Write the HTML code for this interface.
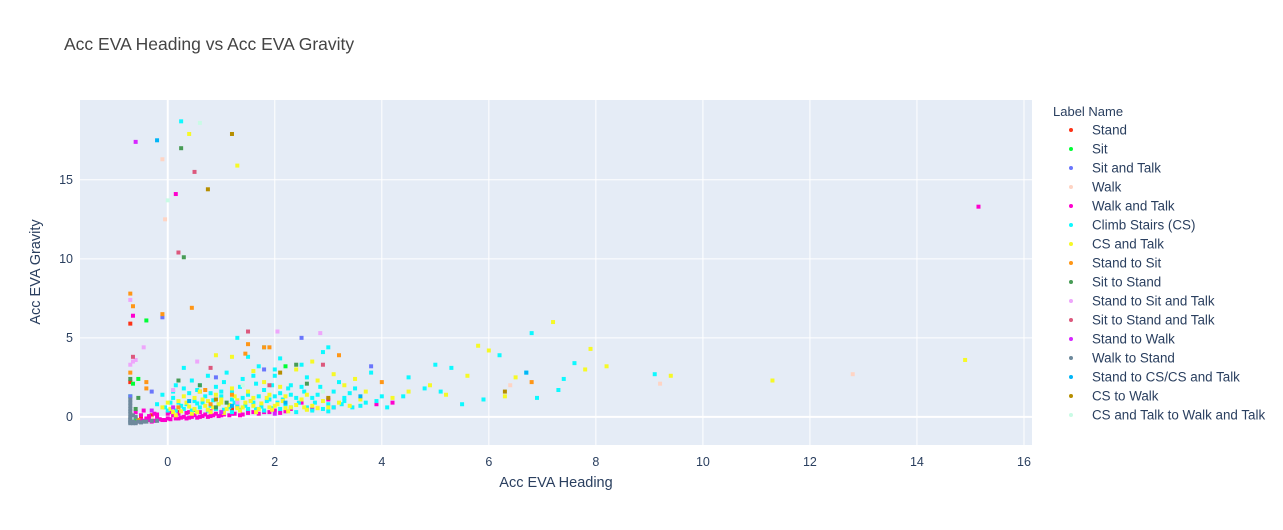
<!DOCTYPE html>
<html><head><meta charset="utf-8"><style>
body{margin:0;background:#fff;font-family:"Liberation Sans",Arial,sans-serif}
svg text{font-family:"Liberation Sans",Arial,sans-serif;fill:#2a3f5f}
</style></head><body>
<svg id="chart" width="1283" height="525" viewBox="0 0 1283 525" xmlns="http://www.w3.org/2000/svg">
<rect width="1283" height="525" fill="#fff"/>
<rect x="80" y="100" width="952" height="345" fill="#E5ECF6"/>
<g id="grid"></g><g id="ticks"></g><g id="marks"></g>
<text x="64" y="50" font-size="17.5" style="fill:#444">Acc EVA Heading vs Acc EVA Gravity</text>
<text x="556" y="487" font-size="14.5" text-anchor="middle">Acc EVA Heading</text>
<text transform="translate(40,272) rotate(-90)" font-size="14.5" text-anchor="middle">Acc EVA Gravity</text>
<g id="legend"><text x="1053" y="116" font-size="13">Label Name</text></g>
</svg>
<script>
const xTicks=[0,2,4,6,8,10,12,14,16];
const yTicks=[0,5,10,15];
const seriesNames=["Stand","Sit","Sit and Talk","Walk","Walk and Talk","Climb Stairs (CS)","CS and Talk","Stand to Sit","Sit to Stand","Stand to Sit and Talk","Sit to Stand and Talk","Stand to Walk","Walk to Stand","Stand to CS/CS and Talk","CS to Walk","CS and Talk to Walk and Talk"];
const seriesColors=["#FD3216","#00FE35","#6A76FC","#FED4C4","#FE00CE","#0DF9FF","#F6F926","#FF9616","#479B55","#EEA6FB","#DC587D","#D626FF","#6E899C","#00B5F7","#B68E00","#C9FBE5"];
const standPts=[[-0.7,5.9],[-0.7,2.2],[-0.6,-0.2],[-0.3,0.1],[0.2,0.3],[0.6,1.6],[1.2,0.5],[-0.5,0.0]];
const sitPts=[[-0.4,6.1],[-0.65,2.1],[-0.7,1.3],[-0.55,2.4],[2.2,3.2],[0.5,0.4],[-0.6,-0.1]];
const sitTalkPts=[[-0.1,6.3],[2.5,5.0],[-0.7,1.3],[0.9,2.5],[1.8,3.0],[3.8,3.2],[-0.3,1.6],[1.5,0.4]];
const walkPts=[[-0.05,12.5],[-0.1,16.3],[12.8,2.7],[9.2,2.1],[6.4,2.0],[0.5,0.2],[1.0,0.4],[2.8,0.6],[-0.3,-0.1]];
const walkTalkPts=[[0.15,14.1],[-0.65,6.4],[15.15,13.3],[-0.5,-0.2],[-0.4,-0.1],[-0.3,-0.3],[-0.2,0.0],[-0.1,-0.2],[0.0,-0.1],[0.1,0.1],[0.2,-0.1],[0.3,0.0],[0.4,-0.05],[0.5,0.1],[0.6,0.0],[0.7,0.15],[0.8,0.05],[0.9,0.2],[1.0,0.1],[1.2,0.2],[1.4,0.15],[1.6,0.3],[1.8,0.3],[2.0,0.4],[2.3,0.5],[2.7,0.5],[3.1,0.6],[3.9,0.8],[4.2,0.9],[-0.6,0.3],[-0.45,0.4],[-0.25,0.2],[0.05,0.3],[0.35,0.25],[1.3,0.6],[2.5,0.9],[3.0,1.1],
[-0.55,-0.3],[-0.45,-0.25],[-0.35,-0.2],[-0.25,-0.25],[-0.15,-0.15],[-0.05,-0.2],[0.05,-0.15],[0.15,-0.1],[0.25,-0.05],[0.35,-0.1],[0.45,0.0],[0.55,-0.05],[0.65,0.05],[0.75,0.0],[0.85,0.1],[0.95,0.05],[1.05,0.15],[1.15,0.1],[1.25,0.2],[1.35,0.1],[1.5,0.25],[1.7,0.2],[1.9,0.3],[2.1,0.25],[2.2,0.35],[-0.5,0.1],[-0.35,0.05],[-0.2,0.15],[0.0,0.2],[0.2,0.2],[0.4,0.3],[0.6,0.3],[0.8,0.35]];
const csPts=[[0.25,18.7],[5.0,3.3],[5.3,3.1],[6.2,3.9],[6.8,5.3],[7.4,2.4],[9.1,2.7],[6.7,2.8],[7.3,1.7],[5.9,1.1],[4.5,2.5],[4.8,1.8],[5.5,0.8],[4.4,1.3],[3.8,2.8],[1.3,5.0],[1.5,3.8],[1.8,4.4],[2.1,3.7],[2.5,3.3],[3.0,4.4],[2.9,4.1],[0.3,3.1],[0.6,2.0],[0.9,1.9],[1.1,2.8],[1.4,2.4],[1.7,3.2],[2.0,2.6],[2.3,2.0],[2.6,2.5],[3.2,2.2],[3.5,1.8],[-0.1,1.4],[0.1,1.2],[0.2,0.9],[0.4,1.5],[0.5,1.0],[0.7,1.3],[0.8,0.7],[1.0,1.6],[1.2,1.1],[1.3,0.8],[1.5,1.4],[1.6,0.9],[1.8,1.7],[1.9,1.1],[2.1,1.5],[2.2,0.8],[2.4,1.2],[2.6,0.6],[2.8,1.4],[3.0,0.8],[3.3,1.2],[3.6,0.7],[3.9,1.0],[4.1,0.6],[0.0,0.4],[0.3,0.5],[0.6,0.6],[0.9,0.5],[1.2,0.3],[1.5,0.5],[1.8,0.4],[2.1,0.5],[2.4,0.3],[2.7,0.4],[3.0,0.35],[0.15,2.0],[0.45,2.3],[0.75,2.6],[1.05,2.2],[1.35,1.9],[1.65,2.1],[1.95,2.0],[2.25,1.8],[2.55,1.6],[2.85,1.9],[0.25,0.7],[0.55,0.85],[0.85,1.05],[1.15,0.6],[1.45,0.7],[1.75,0.65],[2.05,0.9],[5.1,1.6],[6.9,1.2],[7.6,3.4],[3.4,1.5],[4.0,1.3],[2.0,3.0],[1.6,2.6],
[-0.2,0.8],[-0.05,0.6],[0.05,0.9],[0.15,0.4],[0.35,0.8],[0.45,0.4],[0.65,0.9],[0.75,0.4],[0.95,0.8],[1.05,0.45],[1.25,0.9],[1.35,0.45],[1.55,1.0],[1.65,0.5],[1.85,1.0],[1.95,0.55],[2.15,1.1],[2.3,0.6],[2.45,0.9],[2.6,0.5],[2.75,0.9],[2.9,0.5],[3.1,0.6],[3.25,0.8],[3.45,0.6],[3.7,0.9],[0.1,1.6],[0.3,1.8],[0.55,1.7],[0.8,1.5],[1.0,1.3],[1.2,1.6],[1.4,1.2],[1.7,1.3],[2.0,1.3],[2.3,1.4],[2.5,1.9],[2.7,1.2],[3.1,1.6],[3.3,1.0]];
const csTalkPts=[[0.4,17.9],[1.3,15.9],[5.8,4.5],[7.2,6.0],[7.9,4.3],[8.2,3.2],[7.8,3.0],[9.4,2.6],[11.3,2.3],[14.9,3.6],[5.6,2.6],[6.5,2.5],[6.0,4.2],[4.9,2.0],[3.7,1.6],[4.2,1.2],[0.9,3.9],[1.2,3.8],[1.6,2.9],[2.4,3.0],[2.7,3.5],[3.1,2.7],[3.3,2.0],[0.1,0.3],[0.2,0.6],[0.35,0.9],[0.5,0.5],[0.65,1.1],[0.8,0.3],[0.95,0.8],[1.1,0.5],[1.25,1.3],[1.4,0.6],[1.55,1.0],[1.7,0.5],[1.85,1.2],[2.0,0.7],[2.15,1.0],[2.3,0.6],[2.5,1.1],[2.7,0.7],[2.9,1.0],[3.2,0.9],[0.0,0.9],[0.3,1.3],[0.6,1.6],[0.9,1.4],[1.2,1.8],[1.5,1.6],[1.8,2.2],[2.1,1.9],[0.45,0.2],[0.75,0.45],[1.05,0.25],[1.35,0.4],[1.65,0.3],[1.95,0.45],[2.25,0.35],[2.6,0.45],[0.15,0.1],[-0.1,0.6],[3.5,2.4],[4.5,1.6],[5.2,1.4],[6.3,1.3],[2.8,2.3],
[0.05,0.5],[0.25,0.35],[0.4,0.65],[0.55,0.3],[0.7,0.7],[0.85,0.6],[1.0,0.9],[1.15,0.75],[1.3,0.55],[1.45,0.9],[1.6,0.7],[1.75,0.85],[1.9,0.6],[2.05,0.8],[2.2,0.55],[2.4,0.75],[2.55,0.6],[2.8,0.55],[3.0,0.6],[3.4,0.7],[0.2,1.0],[0.5,1.2],[0.75,1.0],[1.0,1.1],[1.3,1.05],[1.6,1.2],[1.9,1.4],[2.2,1.3],[2.6,1.4],[3.6,1.1]];
const standSitPts=[[-0.7,7.8],[0.45,6.9],[-0.1,6.5],[-0.65,7.0],[1.5,4.6],[1.8,4.4],[1.9,4.4],[1.45,4.0],[3.2,3.9],[4.0,2.2],[6.8,2.2],[-0.4,2.2],[-0.4,1.8],[-0.7,2.8],[0.7,1.7],[1.2,1.4],[0.2,0.6],[0.8,0.8],[-0.55,-0.2]];
const sitStandPts=[[0.25,17.0],[0.3,10.1],[-0.7,2.4],[-0.55,1.2],[0.2,2.3],[0.6,2.0],[1.1,0.9],[2.4,3.3],[2.6,2.1],[0.9,0.6],[-0.6,0.5]];
const standSitTalkPts=[[-0.7,7.4],[-0.7,3.3],[-0.65,3.5],[-0.45,4.4],[0.55,3.5],[2.05,5.4],[2.85,5.3],[-0.6,3.6],[0.1,1.7],[1.3,0.9]];
const sitStandTalkPts=[[0.2,10.4],[0.5,15.5],[1.5,5.4],[-0.65,3.8],[0.8,3.1],[2.9,3.3],[1.9,2.0]];
const standWalkPts=[[-0.6,17.4],[-0.3,0.4],[0.1,0.6],[1.0,0.3],[2.0,0.2]];
const walkToStandPts=[[-0.7,-0.4],[-0.7,-0.3],[-0.7,-0.2],[-0.7,-0.1],[-0.7,0.0],[-0.7,0.2],[-0.7,0.5],[-0.7,0.9],[-0.65,-0.3],[-0.6,-0.35],[-0.55,-0.3],[-0.5,-0.35],[-0.45,-0.3],[-0.4,-0.3],[-0.3,-0.25],[-0.2,-0.25],[-0.65,0.1],[-0.6,0.0],[-0.7,0.35],[-0.7,0.7],[-0.7,1.1],[-0.7,-0.35],[-0.65,-0.4],[-0.6,-0.4]];
const standCsPts=[[-0.2,17.5],[6.7,2.8],[0.4,1.0],[1.2,0.7],[2.2,0.9],[3.6,1.3]];
const csWalkPts=[[1.2,17.9],[0.75,14.4],[2.1,2.8],[6.3,1.6],[3.0,1.2],[0.9,1.1]];
const csTalkWalkTalkPts=[[0.6,18.6],[0.0,13.7],[1.4,2.0],[2.9,1.6]];
const seriesData=[standPts,sitPts,sitTalkPts,walkPts,walkTalkPts,csPts,csTalkPts,standSitPts,sitStandPts,standSitTalkPts,sitStandTalkPts,standWalkPts,walkToStandPts,standCsPts,csWalkPts,csTalkWalkTalkPts];
const NS="http://www.w3.org/2000/svg";
const X0=80,X1=1032,Y0=100,Y1=445,xMin=-1.64,xMax=16.15,yMin=-1.78,yMax=20.05;
const sx=v=>X0+(v-xMin)/(xMax-xMin)*(X1-X0);
const sy=v=>Y1-(v-yMin)/(yMax-yMin)*(Y1-Y0);
function mk(t,a,p){const e=document.createElementNS(NS,t);for(const k in a)e.setAttribute(k,a[k]);p.appendChild(e);return e;}
const grid=document.getElementById('grid'),ticks=document.getElementById('ticks'),marks=document.getElementById('marks'),legend=document.getElementById('legend');
xTicks.forEach(t=>{const l=mk('line',{x1:sx(t),x2:sx(t),y1:Y0,y2:Y1,stroke:'#fff','stroke-width':t===0?2:1},grid);


const tx=mk('text',{x:sx(t),y:466,'font-size':12.5,'text-anchor':'middle'},ticks);tx.textContent=t;

});
yTicks.forEach(t=>{const l=mk('line',{x1:X0,x2:X1,y1:sy(t),y2:sy(t),stroke:'#fff','stroke-width':t===0?2:1},grid);


const tx=mk('text',{x:73,y:sy(t)+4,'font-size':12.5,'text-anchor':'end'},ticks);tx.textContent=t;

});
seriesData.forEach((pts,i)=>{const g=mk('g',{fill:seriesColors[i]},marks);


pts.forEach(p=>{const c=mk('rect',{x:sx(p[0])-2,y:sy(p[1])-2,width:4,height:4},g);

});
const ly=130+i*19;
const lg=mk('g',{},legend);


mk('circle',{cx:1071,cy:ly,r:2,fill:seriesColors[i]},lg);
const t=mk('text',{x:1092,y:ly+4.5,'font-size':13.4},lg);t.textContent=seriesNames[i];});
</script>
</body></html>
